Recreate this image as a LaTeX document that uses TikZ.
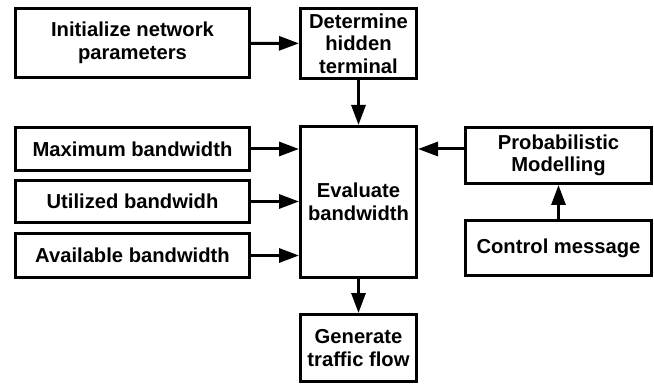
\documentclass[tikz,border=0pt]{standalone}
\usepackage{fontspec}
\setmainfont{Liberation Sans}
\usetikzlibrary{arrows.meta}

\begin{document}
\begin{tikzpicture}[x=1pt, y=-1pt,
				>={Triangle[length=20pt,width=14pt]},   % Pfeilspitzen
				block/.style={draw, line width=3pt, inner sep=0pt, align=center,
					font=\fontsize{20.2}{22.5}\selectfont\bfseries},
				flow/.style={->, line width=3pt}]
				% Rahmen
				\useasboundingbox (0,0) rectangle (654,385);
				% Bloecke links
				\node[block, minimum width=234pt, minimum height=69pt] (init) at (132.5,43) {Initialize network\\parameters};
				\node[block, minimum width=234pt, minimum height=43pt] (maxbw) at (132.5,149) {Maximum bandwidth};
				\node[block, minimum width=234pt, minimum height=42pt] (utilbw) at (132.5,201.5) {Utilized bandwidh};
				\node[block, minimum width=234pt, minimum height=44pt] (availbw) at (132.5,255.5) {Available bandwidth};
				% Bloecke Mitte
				\node[block, minimum width=116pt, minimum height=70pt] (hidden) at (358.5,43.5) {Determine\\hidden\\terminal};
				\node[block, minimum width=116pt, minimum height=151pt] (evalbw) at (358.5,202) {Evaluate\\bandwidth};
				\node[block, minimum width=116pt, minimum height=67pt] (traffic) at (358.5,348) {Generate\\traffic flow};
				% Bloecke rechts
				\node[block, minimum width=186pt, minimum height=56pt] (probmod) at (558.5,155.5) {Probabilistic\\Modelling};
				\node[block, minimum width=186pt, minimum height=55pt] (ctrlmsg) at (558.5,248) {Control message};
				% Pfeile
				\draw[flow] (init) -- (hidden);
				\draw[flow] (hidden) -- (evalbw);
				\draw[flow] (evalbw) -- (traffic);
				\draw[flow] (maxbw.east) -- (maxbw.east -| evalbw.west);
				\draw[flow] (utilbw.east) -- (utilbw.east -| evalbw.west);
				\draw[flow] (availbw.east) -- (availbw.east -| evalbw.west);
				\draw[flow] (probmod.west |- maxbw) -- (evalbw.east |- maxbw);
				\draw[flow] (ctrlmsg) -- (probmod);
			\end{tikzpicture}
\end{document}
